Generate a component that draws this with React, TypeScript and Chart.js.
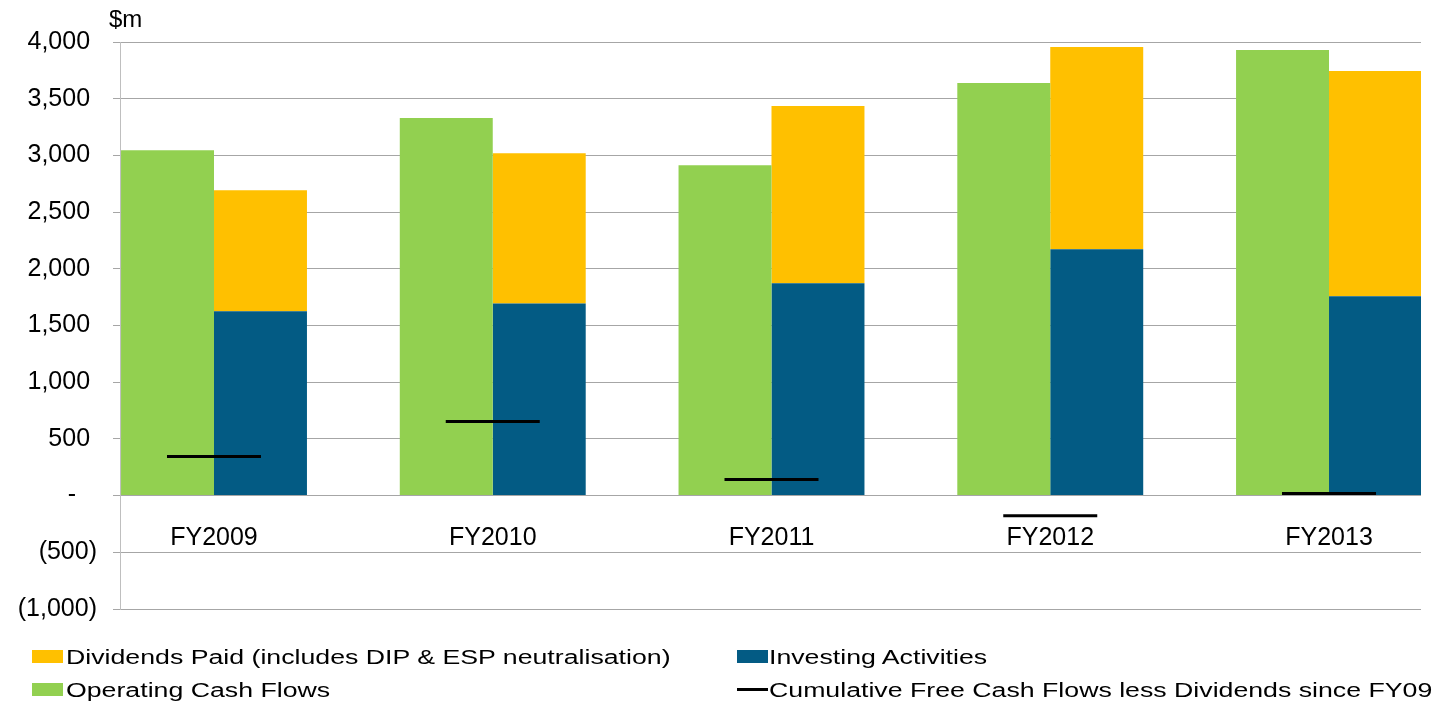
import React, { useEffect, useRef } from 'react';
import { Chart, registerables } from 'chart.js';

Chart.register(...registerables);

// ---- Data ----
const categories = ['FY2009', 'FY2010', 'FY2011', 'FY2012', 'FY2013'];
const operatingCashFlows = [3046, 3329, 2914, 3638, 3929];
const investingActivities = [1625, 1695, 1872, 2172, 1757];
const dividendsPaid = [1068, 1325, 1563, 1784, 1987];
const cumulativeFcfLessDividends = [344, 653, 141, -177, 18];

const seriesNames = [
  'Dividends Paid (includes DIP & ESP neutralisation)',
  'Investing Activities',
  'Operating Cash Flows',
  'Cumulative Free Cash Flows less Dividends since FY09',
];
const unitLabel = '$m';
const yMin = -1000;
const yMax = 4000;
const yStep = 500;

const GREEN = '#92D050';
const YELLOW = '#FFC000';
const BLUE = '#035B84';
const FONT = '"Liberation Sans", Arial, sans-serif';

const toPoints = (vals: number[]) => vals.map((v, i) => ({ x: i, y: v }));
const fmt = (n: number) => Math.abs(n).toLocaleString('en-US');

const zeroPadding = (s: any) => {
  s.paddingLeft = 0;
  s.paddingRight = 0;
  s.paddingTop = 0;
  s.paddingBottom = 0;
};

export default function App() {
  const canvasRef = useRef<HTMLCanvasElement | null>(null);

  useEffect(() => {
    const canvas = canvasRef.current;
    if (!canvas) return;
    Chart.defaults.font.family = FONT;
    Chart.defaults.color = '#000';

    const chart = new Chart(canvas, {
      type: 'bar',
      data: {
        datasets: [
          {
            type: 'line',
            label: seriesNames[3],
            data: toPoints(cumulativeFcfLessDividends),
            showLine: false,
            pointStyle: 'line',
            pointRadius: 47,
            pointHoverRadius: 47,
            pointBorderWidth: 3,
            pointBorderColor: '#000',
            pointBackgroundColor: '#000',
            borderColor: '#000',
            stack: 'fcf',
            order: -1,
            clip: false,
          } as any,
          {
            label: seriesNames[2],
            data: toPoints(operatingCashFlows),
            backgroundColor: GREEN,
            stack: 'ocf',
          },
          {
            label: seriesNames[1],
            data: toPoints(investingActivities),
            backgroundColor: BLUE,
            stack: 'uses',
          },
          {
            label: seriesNames[0],
            data: toPoints(dividendsPaid),
            backgroundColor: YELLOW,
            stack: 'uses',
          },
        ],
      },
      options: {
        animation: false,
        responsive: false,
        maintainAspectRatio: false,
        categoryPercentage: 0.667,
        barPercentage: 1,
        layout: { autoPadding: false, padding: { left: 0, top: 42, right: 16, bottom: 95 } },
        plugins: {
          legend: { display: false },
          tooltip: { enabled: false },
          title: { display: false },
        },
        scales: {
          x: {
            type: 'linear',
            min: -0.3372,
            max: 4.33,
            offset: false,
            position: { y: 0 } as any,
            grid: { display: false, drawTicks: false, offset: false },
            border: { display: false },
            afterBuildTicks: (axis: any) => {
              axis.ticks = categories.map((_, i) => ({ value: i }));
            },
            afterFit: zeroPadding,
            ticks: {
              autoSkip: false,
              maxRotation: 0,
              padding: 28,
              font: { size: 25 },
              color: '#000',
              callback: (v: any) => categories[Math.round(Number(v))] ?? '',
            },
          },
          y: {
            type: 'linear',
            stacked: true,
            min: yMin,
            max: yMax,
            afterFit: (scale: any) => {
              scale.width = 120;
              zeroPadding(scale);
            },
            grid: {
              color: '#A6A6A6',
              lineWidth: 1,
              drawTicks: true,
              tickLength: 7,
            },
            border: { display: true, color: '#BFBFBF', width: 1 },
            ticks: {
              stepSize: yStep,
              padding: 16,
              font: { size: 25 },
              color: '#000',
              callback: (v: any) => {
                const n = Number(v);
                if (n === 0) return '-   ';
                if (n < 0) return `(${fmt(n)})`;
                return `${fmt(n)} `;
              },
            },
          },
        },
      } as any,
    });

    return () => chart.destroy();
  }, []);

  const legendText: React.CSSProperties = {
    position: 'absolute',
    fontFamily: FONT,
    fontSize: 20,
    lineHeight: '20px',
    whiteSpace: 'nowrap',
    transform: 'scaleX(1.335)',
    transformOrigin: 'left center',
    color: '#000',
  };
  const swatch = (left: number, cy: number, color: string): React.CSSProperties => ({
    position: 'absolute',
    left,
    top: cy - 6.5,
    width: 31,
    height: 13,
    background: color,
  });

  const row1 = 656.5;
  const row2 = 689.5;

  return (
    <div
      style={{
        position: 'fixed',
        left: 0,
        top: 0,
        width: 1437,
        height: 704,
        background: '#fff',
        overflow: 'hidden',
      }}
    >
      <canvas ref={canvasRef} width={1437} height={704} style={{ display: 'block' }} />
      <div
        style={{
          position: 'absolute',
          left: 109,
          top: 7,
          fontFamily: FONT,
          fontSize: 24,
          lineHeight: '24px',
          color: '#000',
        }}
      >
        {unitLabel}
      </div>
      {/* Legend */}
      <div style={swatch(32, row1, YELLOW)} />
      <div style={{ ...legendText, left: 66, top: row1 - 9.7 }}>{seriesNames[0]}</div>
      <div style={swatch(737, row1, BLUE)} />
      <div style={{ ...legendText, left: 769, top: row1 - 9.7 }}>{seriesNames[1]}</div>
      <div style={swatch(32, row2, GREEN)} />
      <div style={{ ...legendText, left: 66, top: row2 - 9.7 }}>{seriesNames[2]}</div>
      <div
        style={{
          position: 'absolute',
          left: 737,
          top: row2 - 1.5,
          width: 31,
          height: 3,
          background: '#000',
        }}
      />
      <div style={{ ...legendText, left: 769, top: row2 - 9.7 }}>{seriesNames[3]}</div>
    </div>
  );
}
